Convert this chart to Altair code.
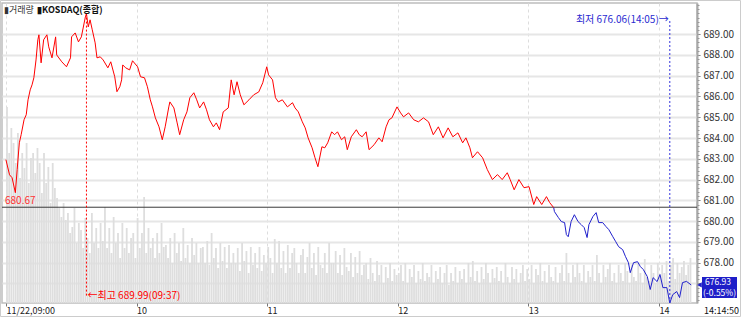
import altair as alt
import pandas as pd

# ---------------- data ----------------
trade_date = "11/22"
series_name = "KOSDAQ(종합)"
volume_name = "거래량"
prev_close = 680.67
high_time, high_price = "09:37", 689.99
low_time, low_price = "14:05", 676.06
last_time, last_price, last_pct = "14:14:50", 676.93, -0.55
y_ticks = [677, 678, 679, 680, 681, 682, 683, 684, 685, 686, 687, 688, 689]
hour_ticks = ["09:00", "10:00", "11:00", "12:00", "13:00", "14:00"]

times = [
    "09:00:00", "09:01:40", "09:02:50", "09:04:20", "09:05:10", "09:06:10", "09:07:00", "09:08:20", "09:09:20", "09:10:10",
    "09:11:10", "09:12:00", "09:12:50", "09:13:50", "09:14:40", "09:15:10", "09:16:10", "09:17:20", "09:18:50", "09:19:40",
    "09:21:10", "09:22:50", "09:23:20", "09:25:40", "09:27:50", "09:29:40", "09:30:10", "09:31:50", "09:33:20", "09:34:40",
    "09:36:30", "09:37:00", "09:37:50", "09:38:40", "09:39:40", "09:41:00", "09:41:50", "09:43:20", "09:44:40", "09:46:50",
    "09:48:10", "09:50:00", "09:51:00", "09:52:20", "09:53:10", "09:53:40", "09:55:00", "09:56:50", "09:58:10", "10:00:30",
    "10:01:50", "10:03:40", "10:05:00", "10:06:20", "10:07:20", "10:08:40", "10:10:20", "10:11:50", "10:13:10", "10:14:50",
    "10:15:20", "10:17:10", "10:18:40", "10:19:50", "10:21:40", "10:23:10", "10:24:30", "10:26:20", "10:27:40", "10:29:00",
    "10:30:50", "10:32:10", "10:33:30", "10:35:20", "10:36:40", "10:38:10", "10:39:50", "10:42:10", "10:43:30", "10:44:50",
    "10:46:10", "10:47:40", "10:49:20", "10:51:40", "10:53:50", "10:56:10", "10:58:00", "10:59:50", "11:00:40", "11:02:30",
    "11:03:50", "11:05:10", "11:07:00", "11:09:20", "11:11:40", "11:12:50", "11:14:20", "11:16:10", "11:17:30", "11:18:50",
    "11:20:40", "11:22:00", "11:23:20", "11:25:10", "11:26:30", "11:27:50", "11:29:40", "11:31:00", "11:32:20", "11:34:10",
    "11:35:40", "11:36:50", "11:38:40", "11:41:00", "11:42:20", "11:43:40", "11:45:30", "11:46:50", "11:49:10", "11:51:20",
    "11:52:50", "11:54:40", "11:56:00", "11:57:20", "11:59:40", "12:01:20", "12:02:40", "12:05:00", "12:07:20", "12:09:30",
    "12:11:50", "12:14:10", "12:16:20", "12:18:40", "12:20:50", "12:23:10", "12:25:20", "12:27:40", "12:29:50", "12:31:20",
    "12:33:10", "12:34:20", "12:36:40", "12:39:00", "12:41:10", "12:43:30", "12:45:50", "12:48:00", "12:50:20", "12:51:40",
    "12:53:30", "12:55:40", "12:58:00", "13:00:20", "13:02:30", "13:03:50", "13:06:10", "13:08:20", "13:09:50", "13:11:40",
    "13:12:00", "13:13:50", "13:15:10", "13:16:40", "13:17:30", "13:18:20", "13:19:40", "13:21:10", "13:22:50", "13:24:20",
    "13:25:40", "13:27:00", "13:27:50", "13:29:40", "13:31:10", "13:32:20", "13:34:10", "13:35:40", "13:37:00", "13:38:50",
    "13:40:10", "13:41:30", "13:43:20", "13:44:40", "13:46:00", "13:46:50", "13:48:20", "13:50:10", "13:51:30", "13:52:50",
    "13:54:40", "13:56:00", "13:57:20", "13:59:10", "14:00:30", "14:01:50", "14:03:40", "14:05:00", "14:06:20", "14:08:10",
    "14:09:30", "14:10:50", "14:12:40", "14:14:50",
]

prices = [
    682.96, 682.23, 682.09, 681.37, 682.48, 683.77, 684.16, 684.88, 685.12, 685.84,
    686.32, 686.56, 686.90, 687.76, 688.73, 688.97, 687.62, 688.73, 688.97, 688.39,
    687.86, 688.87, 688.00, 687.67, 687.43, 687.86, 688.87, 689.06, 688.63, 688.87,
    689.83, 689.99, 689.35, 689.69, 689.21, 688.58, 687.86, 687.91, 687.76, 687.38,
    687.67, 686.95, 686.23, 686.47, 686.80, 687.52, 687.38, 687.28, 687.72, 687.43,
    686.95, 686.90, 686.47, 685.84, 685.50, 684.97, 684.54, 683.92, 684.54, 685.50,
    685.74, 685.45, 684.73, 684.16, 684.88, 685.26, 685.94, 686.18, 685.84, 685.45,
    685.74, 685.36, 684.88, 684.54, 684.73, 684.40, 685.26, 685.45, 686.80, 686.08,
    686.71, 686.08, 685.60, 685.84, 686.08, 686.22, 686.66, 687.43, 687.04, 686.80,
    685.94, 685.74, 685.84, 685.50, 685.70, 685.45, 685.26, 684.78, 684.49, 684.01,
    683.53, 683.05, 682.62, 683.58, 683.53, 683.77, 684.30, 684.16, 684.30, 683.92,
    684.06, 683.44, 684.06, 684.40, 684.16, 684.06, 684.30, 683.44, 683.68, 684.01,
    683.82, 684.54, 684.88, 684.97, 685.50, 685.21, 685.02, 685.21, 684.88, 684.78,
    684.97, 684.78, 684.16, 684.54, 684.01, 684.49, 684.06, 684.25, 683.77, 684.01,
    683.53, 683.05, 683.34, 683.05, 682.48, 682.00, 682.24, 682.00, 682.33, 682.00,
    681.51, 682.00, 681.61, 681.66, 680.80, 681.18, 680.80, 681.18, 680.89, 680.65,
    680.46, 680.17, 679.98, 679.93, 679.35, 679.25, 679.98, 680.31, 679.98, 679.83,
    679.69, 679.21, 679.83, 680.22, 680.41, 679.93, 679.93, 679.74, 679.59, 679.25,
    679.01, 678.77, 678.63, 678.29, 678.00, 677.52, 678.00, 678.05, 677.81, 677.67,
    677.33, 676.71, 677.28, 677.09, 677.43, 676.80, 676.80, 676.06, 676.46, 676.61,
    676.32, 677.04, 677.10, 676.93,
]

# volume per minute from 09:00 (relative units)
volume = [
    196, 150, 175, 160, 140, 170, 125, 150, 135, 160, 120, 145, 150, 130, 155,
    140, 110, 150, 120, 136, 100, 140, 115, 105, 95, 86, 100, 83, 90, 70,
    76, 95, 60, 80, 73, 55, 85, 65, 50, 90, 60, 75, 55, 80, 62,
    96, 55, 75, 50, 86, 60, 70, 45, 80, 55, 75, 50, 65, 70, 45,
    85, 55, 70, 106, 50, 75, 55, 65, 45, 70, 50, 80, 56, 58, 45,
    65, 40, 70, 50, 60, 42, 75, 45, 58, 40, 65, 48, 60, 40, 55,
    56, 40, 62, 38, 70, 45, 55, 35, 60, 42, 56, 35, 58, 40, 50,
    40, 55, 32, 60, 42, 52, 30, 56, 38, 50, 35, 56, 32, 48, 40,
    56, 45, 30, 64, 40, 62, 35, 52, 30, 58, 35, 50, 55, 40, 30,
    48, 54, 30, 46, 60, 35, 50, 28, 56, 38, 35, 50, 30, 60, 40,
    40, 52, 30, 48, 28, 55, 36, 32, 50, 26, 46, 30, 52, 28, 38,
    40, 24, 45, 30, 22, 42, 28, 38, 20, 36, 25, 40, 22, 34, 28,
    30, 38, 22, 40, 20, 34, 26, 38, 20, 32, 24, 40, 22, 30, 26,
    38, 20, 32, 24, 36, 20, 30, 38, 18, 30, 22, 36, 20, 32, 24,
    34, 20, 40, 26, 42, 22, 32, 20, 36, 24, 40, 30, 20, 34, 25,
    36, 22, 32, 20, 40, 26, 20, 36, 24, 34, 20, 30, 38, 22, 34,
    24, 38, 20, 34, 28, 40, 22, 32, 20, 38, 26, 22, 36, 20, 30,
    38, 22, 50, 30, 20, 38, 26, 40, 30, 22, 38, 20, 32, 26, 38,
    22, 48, 30, 20, 38, 26, 34, 40, 22, 30, 20, 38, 30, 22, 40,
    32, 20, 38, 26, 22, 40, 30, 20, 44, 26, 22, 38, 30, 20, 40,
    26, 38, 30, 42, 22, 38, 45, 24, 40, 30, 36, 42, 28, 38, 45,
]

# ---------------- helpers / frames ----------------
FONT = "Noto Sans CJK KR"
RED = "#ff0000"
BLUE = "#2020cc"


def to_min(s):
    parts = [int(p) for p in s.split(":")]
    sec = parts[2] if len(parts) > 2 else 0
    return (parts[0] - 9) * 60 + parts[1] + sec / 60.0


price_df = pd.DataFrame({"t": [to_min(s) for s in times], "price": prices})
cross = next(i for i, p in enumerate(prices) if p < prev_close)
up_df = price_df.iloc[: cross + 1]
down_df = price_df.iloc[cross:]
vol_df = pd.DataFrame({"t": [i + 0.5 for i in range(len(volume))], "vol": volume})
ref_df = pd.DataFrame({"v": [prev_close]})
hi_df = pd.DataFrame({"t": [to_min(high_time)], "p": [high_price],
                      "label": [f"←최고 {high_price:.2f}({high_time})"]})
lo_df = pd.DataFrame({"t": [to_min(low_time)], "p": [low_price],
                      "label": [f"최저 {low_price:.2f}({low_time})→"]})
last_df = pd.DataFrame({"p": [last_price], "l1": [f"{last_price:.2f}"],
                        "l2": [f"({last_pct:.2f}%)"], "tm": [last_time]})
one = pd.DataFrame({"a": [0]})

# the last-price box covers the lowest tick label, as in the reference
hidden_label = round(last_price)

xscale = alt.Scale(domain=[0.5, 315.2], nice=False, zero=False)
pscale = alt.Scale(domain=[676.06, 690.5], nice=False, zero=False)

xaxis = alt.Axis(
    values=[to_min(h) for h in hour_ticks],
    labelExpr=f"datum.value == 0 ? '{trade_date},09:00' : '' + (9 + datum.value / 60)",
    labelAlign="left", labelFlush=False, labelOverlap=False, labelBound=False,
    labelPadding=0, labelFontSize=9, labelColor="#222", labelFont=FONT,
    tickSize=3, tickColor="#777", domain=False,
    grid=True, gridColor="#dddddd", gridDash=[3, 3], gridWidth=1, title=None,
)
yaxis = alt.Axis(
    orient="right", values=y_ticks,
    labelExpr=f"datum.value == {hidden_label} ? '' : format(datum.value, '.2f')",
    labelFontSize=10, labelColor="#333",
    labelFont=FONT, labelPadding=3, tickSize=3, tickColor="#777",
    domainColor="#a8a8a8", domainWidth=2,
    grid=True, gridColor="#e6e6e6", gridWidth=2, title=None,
)
minor_axis = alt.Axis(
    orient="right", values=[round(676.2 + 0.2 * i, 1) for i in range(72)],
    labels=False, tickSize=2, tickColor="#999", domain=False, grid=False, title=None,
)

X = alt.X("t:Q", scale=xscale, axis=xaxis, title=None)


def Y(field):
    return alt.Y(field, scale=pscale, axis=yaxis, title=None)


# ---------------- layers ----------------
vol_layer = alt.Chart(vol_df).mark_bar(width=1.8, color="#dedede").encode(
    x=X, y=alt.Y("vol:Q", scale=alt.Scale(domain=[0, 300], nice=False), axis=None)
)

ref_rule = alt.Chart(ref_df).mark_rule(color="#3a3a3a", strokeWidth=1).encode(y=Y("v:Q"))
ref_label = alt.Chart(ref_df).mark_text(
    align="left", baseline="bottom", dy=-1, fontSize=10, color="#ff3333", font=FONT
).encode(x=alt.value(3), y=Y("v:Q"), text=alt.Text("v:Q", format=".2f"))

up_line = alt.Chart(up_df).mark_line(color=RED, strokeWidth=1).encode(x=X, y=Y("price:Q"))
down_line = alt.Chart(down_df).mark_line(color=BLUE, strokeWidth=1).encode(x=X, y=Y("price:Q"))

hi_rule = alt.Chart(hi_df).mark_rule(color=RED, strokeDash=[2, 2], strokeWidth=1).encode(
    x=X, y=Y("p:Q"), y2=alt.value(293)
)
hi_text = alt.Chart(hi_df).mark_text(
    align="left", baseline="middle", dx=1, fontSize=10, color=RED, font=FONT
).encode(x=X, y=alt.value(293), text="label:N")

lo_rule = alt.Chart(lo_df).mark_rule(color="#3333dd", strokeDash=[2, 2], strokeWidth=1).encode(
    x=X, y=Y("p:Q"), y2=alt.value(17)
)
lo_text = alt.Chart(lo_df).mark_text(
    align="right", baseline="middle", dx=-1, fontSize=10, color="#2a2ad0", font=FONT
).encode(x=X, y=alt.value(17), text="label:N")

box = alt.Chart(last_df).mark_rect(color="#1e1ec8", yOffset=-8, y2Offset=13).encode(
    x=alt.value(700), x2=alt.value(735), y=Y("p:Q"), y2=alt.Y2("p:Q")
)
pointer = alt.Chart(last_df).mark_point(
    shape="triangle-left", filled=True, color="#1e1ec8", size=28, opacity=1
).encode(x=alt.value(697.5), y=Y("p:Q"))
t1 = alt.Chart(last_df).mark_text(
    align="left", baseline="middle", dy=-3, fontSize=8.5, color="white", font=FONT
).encode(x=alt.value(703), y=Y("p:Q"), text="l1:N")
t2 = alt.Chart(last_df).mark_text(
    align="left", baseline="middle", dy=8, fontSize=8.5, color="white", font=FONT
).encode(x=alt.value(701), y=Y("p:Q"), text="l2:N")

price_group = alt.layer(
    ref_rule, up_line, down_line, hi_rule, lo_rule, ref_label, hi_text, lo_text,
    box, pointer, t1, t2,
)

minor_layer = alt.Chart(ref_df).mark_point(opacity=0).encode(
    y=alt.Y("v:Q", scale=pscale, axis=minor_axis, title=None)
)

time_label = alt.Chart(last_df).mark_text(
    align="left", baseline="middle", fontSize=9, color="#111", font=FONT
).encode(x=alt.value(702), y=alt.value(308), text="tm:N")

leg1 = alt.Chart(one).mark_text(
    align="left", baseline="middle", fontSize=9, color="#333", font=FONT
).encode(x=alt.value(2), y=alt.value(7), text=alt.value("▮" + volume_name))
leg2 = alt.Chart(one).mark_text(
    align="left", baseline="middle", fontSize=9, color="#111", fontWeight="bold", font=FONT
).encode(x=alt.value(35), y=alt.value(7), text=alt.value("▮" + series_name))

frame = alt.Chart(one).mark_rect(fillOpacity=0, stroke="#cccccc", strokeWidth=1).encode(
    x=alt.value(-1.5), x2=alt.value(738.5), y=alt.value(-2.5), y2=alt.value(313.5)
)

chart = (
    alt.layer(vol_layer, price_group, minor_layer, time_label, leg1, leg2, frame)
    .resolve_scale(y="independent")
    .properties(
        width=695, height=300,
        autosize=alt.AutoSizeParams(type="none"),
        padding={"left": 2, "top": 3, "right": 46, "bottom": 16},
        background="white",
    )
    .configure_view(stroke="#bdbdbd", strokeWidth=1.5)
    .configure_text(font=FONT)
)

chart.save("out.html", embed_options={"renderer": "svg", "actions": False})
